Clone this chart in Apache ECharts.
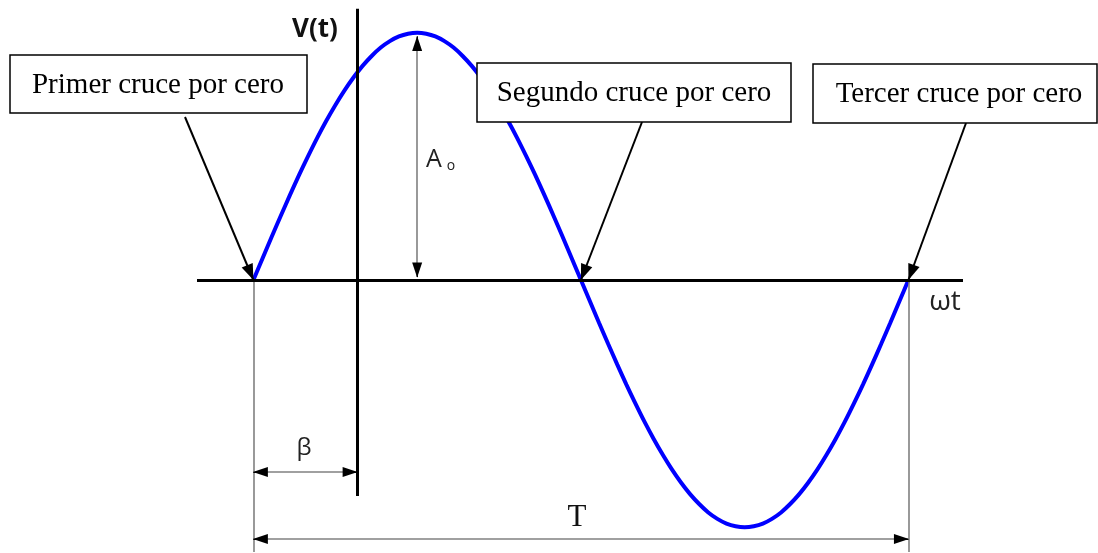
<!DOCTYPE html>
<html>
<head>
<meta charset="utf-8">
<title>Cruces por cero</title>
<script src="https://cdn.jsdelivr.net/npm/echarts@6/dist/echarts.min.js"></script>
<style>
  html, body { margin: 0; padding: 0; background: #fff; }
  #chart { width: 1098px; height: 553px; }
</style>
</head>
<body>
<div id="chart"></div>
<script>
// fase en grados (0 = primer cruce por cero, 360 = tercer cruce)
const phaseDeg = [0, 5, 10, 15, 20, 25, 30, 35, 40, 45, 50, 55, 60, 65, 70, 75, 80, 85, 90,
  95, 100, 105, 110, 115, 120, 125, 130, 135, 140, 145, 150, 155, 160, 165, 170, 175, 180,
  185, 190, 195, 200, 205, 210, 215, 220, 225, 230, 235, 240, 245, 250, 255, 260, 265, 270,
  275, 280, 285, 290, 295, 300, 305, 310, 315, 320, 325, 330, 335, 340, 345, 350, 355, 360]
// V(t) (amplitud A0 = 1)
const voltage = [0, 0.087, 0.174, 0.259, 0.342, 0.423, 0.5, 0.574, 0.643, 0.707, 0.766, 0.819, 0.866, 0.906, 0.94, 0.966, 0.985, 0.996, 1,
  0.996, 0.985, 0.966, 0.94, 0.906, 0.866, 0.819, 0.766, 0.707, 0.643, 0.574, 0.5, 0.423, 0.342, 0.259, 0.174, 0.087, 0,
  -0.087, -0.174, -0.259, -0.342, -0.423, -0.5, -0.574, -0.643, -0.707, -0.766, -0.819, -0.866, -0.906, -0.94, -0.966, -0.985, -0.996, -1,
  -0.996, -0.985, -0.966, -0.94, -0.906, -0.866, -0.819, -0.766, -0.707, -0.643, -0.574, -0.5, -0.423, -0.342, -0.259, -0.174, -0.087, 0]
// cruces por cero
const crossings = [0, 180, 360]
const crossLabels = ['Primer cruce por cero', 'Segundo cruce por cero', 'Tercer cruce por cero']
// desfase beta (grados) donde esta el eje V(t)
const beta = 57
// extremos de los ejes dibujados
const axisX = [-31, 390]
const axisY = [-0.874, 1.097]

const chart = echarts.init(document.getElementById('chart'))

const wave = phaseDeg.map((d, i) => [d, voltage[i]])

// puntos de partida de las flechas (pixeles, bajo cada cuadro)
const calloutFrom = [{x: 185, y: 117}, {x: 642, y: 122}, {x: 966, y: 123}]

// flechas de cota: [x1, y1, x2, y2]
const dims = [
  [90, 0.985, 90, 0.012],              // A0
  [crossings[0], -0.776, beta, -0.776], // beta
  [crossings[0], -1.047, crossings[2], -1.047] // T
]

// puntas negras de las cotas (segmentos cortos)
const heads = []
dims.forEach(d => {
  const dx = d[2] - d[0], dy = d[3] - d[1]
  const len = Math.sqrt(dx * dx + dy * dy)
  const k = d[1] === d[3] ? 4 / len : 0.02 / len
  heads.push([{coord: [d[0] + dx * k, d[1] + dy * k]}, {coord: [d[0], d[1]]}])
  heads.push([{coord: [d[2] - dx * k, d[3] - dy * k]}, {coord: [d[2], d[3]]}])
})

const txt = (x, y, text, font, size, extra) => Object.assign({
  type: 'text', z: 101, x: x, y: y,
  style: Object.assign({
    text: text, fontFamily: font, fontSize: size, fill: '#111',
    textAlign: 'center', textVerticalAlign: 'middle', align: 'center', verticalAlign: 'middle'
  }, extra || {})
})

let option = {
  animation: false,
  backgroundColor: '#fff',
  grid: {left: 197, right: 135, top: 8, bottom: 1},
  xAxis: {type: 'value', min: axisX[0], max: axisX[1], show: false},
  yAxis: {type: 'value', min: -1.1, max: 1.1, show: false},
  series: [
    {
      // lineas grises de referencia y cotas
      type: 'line',
      data: [],
      silent: true,
      clip: false,
      markLine: {
        silent: true,
        symbol: ['none', 'none'],
        label: {show: false},
        lineStyle: {color: '#808080', width: 1.6, type: 'solid'},
        emphasis: {disabled: true},
        data: [
          [{coord: [crossings[0], 0]}, {coord: [crossings[0], -1.1]}],
          [{coord: [crossings[2], 0]}, {coord: [crossings[2], -1.1]}]
        ].concat(dims.map(d => [{coord: [d[0], d[1]]}, {coord: [d[2], d[3]]}]))
      }
    },
    {
      type: 'line',
      data: [],
      silent: true,
      clip: false,
      markLine: {
        silent: true,
        symbol: ['none', 'triangle'],
        symbolSize: [10, 15],
        symbolOffset: [[0, 0], [0, 7]],
        label: {show: false},
        lineStyle: {color: '#000', width: 1, type: 'solid'},
        emphasis: {disabled: true},
        data: heads
      }
    },
    {
      // senal
      type: 'line',
      data: wave,
      smooth: 0.3,
      showSymbol: false,
      silent: true,
      lineStyle: {color: '#0000ff', width: 4},
      z: 3
    },
    {
      // ejes
      type: 'line',
      data: [],
      silent: true,
      z: 4,
      markLine: {
        silent: true,
        symbol: ['none', 'none'],
        label: {show: false},
        lineStyle: {color: '#000', width: 3, type: 'solid'},
        emphasis: {disabled: true},
        data: [
          [{coord: [axisX[0], 0]}, {coord: [axisX[1], 0]}],
          [{coord: [beta, axisY[0]]}, {coord: [beta, axisY[1]]}]
        ]
      }
    },
    {
      // flechas de los cuadros
      type: 'line',
      data: [],
      silent: true,
      z: 5,
      markLine: {
        silent: true,
        symbol: ['none', 'triangle'],
        symbolSize: [12, 16],
        symbolOffset: [[0, 0], [0, 8]],
        label: {show: false},
        lineStyle: {color: '#000', width: 2, type: 'solid'},
        emphasis: {disabled: true},
        data: crossings.map((c, i) => [calloutFrom[i], {coord: [c, 0]}])
      }
    }
  ],
  graphic: [
    // cuadros de texto
    {type: 'rect', z: 100, shape: {x: 10, y: 55, width: 297, height: 58}, style: {fill: '#fff', stroke: '#000', lineWidth: 1.5}},
    {type: 'rect', z: 100, shape: {x: 477, y: 63, width: 314, height: 59}, style: {fill: '#fff', stroke: '#000', lineWidth: 1.5}},
    {type: 'rect', z: 100, shape: {x: 813, y: 64, width: 284, height: 59}, style: {fill: '#fff', stroke: '#000', lineWidth: 1.5}},
    txt(158, 85, crossLabels[0], 'Liberation Serif', 29, {fill: '#000'}),
    txt(634, 93, crossLabels[1], 'Liberation Serif', 29, {fill: '#000'}),
    txt(959, 94, crossLabels[2], 'Liberation Serif', 29, {fill: '#000'}),
    // rotulos
    txt(315, 30, 'V(t)', 'Open Sans', 26, {fontWeight: 'bold'}),
    txt(945, 302, 'ωt', 'Open Sans', 28, {fill: '#222'}),
    txt(434, 160, 'A', 'Open Sans', 25, {fill: '#222'}),
    txt(451, 166, 'o', 'Open Sans', 14, {fill: '#222'}),
    txt(304, 448, 'β', 'Open Sans', 24, {fill: '#222'}),
    txt(577, 518, 'T', 'Liberation Serif', 31)
  ]
}
chart.setOption(option)
</script>
</body>
</html>
